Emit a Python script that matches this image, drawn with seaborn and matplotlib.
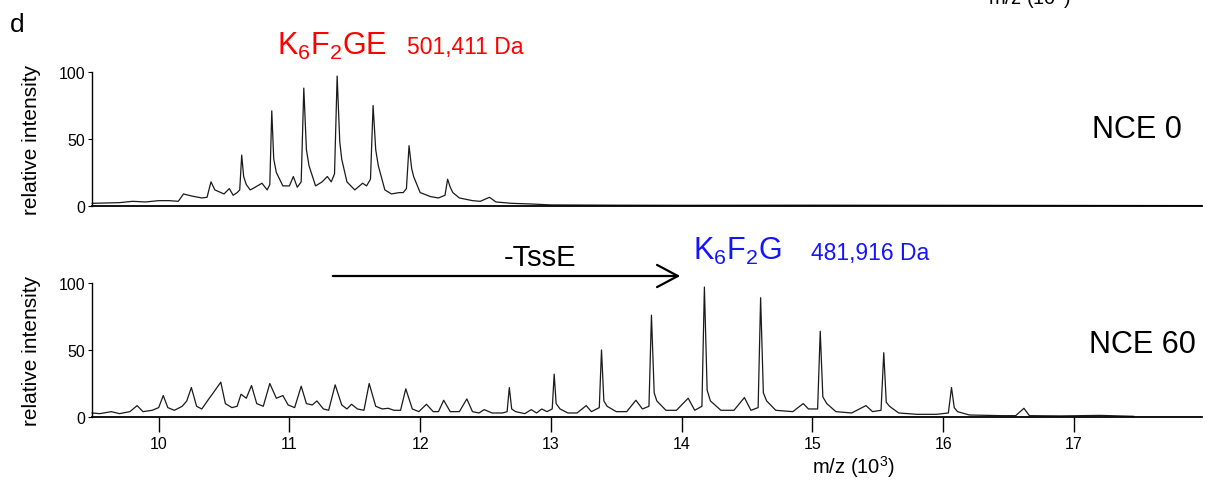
import matplotlib
matplotlib.use("Agg")
import matplotlib.pyplot as plt
from matplotlib.patches import FancyArrowPatch
import seaborn as sns
import pandas as pd

# spectrum traces (m/z in 10^3, relative intensity)
top_mz = [9.49, 9.70, 9.80, 9.90, 10.00, 10.08, 10.15, 10.19, 10.25, 10.33,
          10.37, 10.40, 10.43, 10.50, 10.54, 10.57, 10.60, 10.62, 10.635, 10.65,
          10.67, 10.70, 10.72, 10.79, 10.83, 10.85, 10.865, 10.88, 10.90, 10.95,
          11.00, 11.03, 11.06, 11.09, 11.11, 11.13, 11.15, 11.20, 11.25, 11.29,
          11.32, 11.345, 11.365, 11.385, 11.40, 11.44, 11.50, 11.56, 11.59, 11.62,
          11.64, 11.66, 11.68, 11.73, 11.78, 11.84, 11.87, 11.895, 11.915, 11.935,
          11.95, 12.00, 12.08, 12.14, 12.19, 12.21, 12.23, 12.25, 12.30, 12.40,
          12.46, 12.53, 12.58, 12.70, 12.85, 13.00, 13.50, 14.00, 15.00, 16.00,
          17.00, 17.98]
top_int = [2, 2.5, 3.5, 3, 4, 4, 3.5, 9, 7.5, 6,
           6.5, 18, 12, 9, 13, 8, 10, 12, 38, 22,
           16, 12, 13, 17, 12, 16, 71, 35, 25, 15,
           15, 22, 14, 18, 88, 42, 30, 15, 18, 22,
           18, 24, 97, 48, 35, 18, 12, 17, 15, 20,
           75, 42, 30, 12, 9, 10, 10, 13, 45, 28,
           22, 10, 7, 6, 8, 20, 14, 10, 6, 4,
           3.5, 6.5, 3, 2, 1.5, 0.8, 0.6, 0.5, 0.6, 0.5,
           0.4, 0.3]

bottom_mz = [9.49, 9.55, 9.638, 9.70, 9.78, 9.835, 9.88, 9.95, 10.00, 10.035,
             10.07, 10.12, 10.18, 10.215, 10.25, 10.29, 10.33, 10.38, 10.41, 10.475,
             10.51, 10.56, 10.60, 10.63, 10.67, 10.71, 10.75, 10.80, 10.85, 10.90,
             10.95, 10.99, 11.04, 11.09, 11.13, 11.175, 11.21, 11.26, 11.30, 11.35,
             11.40, 11.44, 11.475, 11.52, 11.57, 11.61, 11.66, 11.71, 11.755, 11.80,
             11.85, 11.89, 11.94, 11.99, 12.048, 12.10, 12.14, 12.18, 12.23, 12.30,
             12.357, 12.40, 12.45, 12.49, 12.55, 12.63, 12.665, 12.682, 12.70, 12.73,
             12.80, 12.85, 12.89, 12.93, 12.97, 13.01, 13.025, 13.04, 13.07, 13.13,
             13.20, 13.27, 13.31, 13.37, 13.387, 13.405, 13.43, 13.50, 13.58, 13.65,
             13.70, 13.75, 13.769, 13.79, 13.81, 13.88, 13.96, 14.05, 14.10, 14.155,
             14.174, 14.195, 14.22, 14.30, 14.40, 14.48, 14.53, 14.585, 14.604, 14.625,
             14.65, 14.72, 14.85, 14.93, 14.97, 15.04, 15.060, 15.08, 15.11, 15.18,
             15.30, 15.41, 15.46, 15.525, 15.546, 15.565, 15.59, 15.66, 15.80, 15.95,
             16.04, 16.064, 16.085, 16.11, 16.20, 16.45, 16.555, 16.618, 16.66, 16.90,
             17.20, 17.46]
bottom_int = [3, 2.5, 4, 2.5, 4, 8.5, 4, 5, 7, 16,
              7, 5, 8, 12, 22, 8, 6, 13, 17, 26,
              10, 7, 8, 17, 14, 23.5, 10, 8, 25, 14,
              16, 9, 7, 23, 10, 9, 12, 6, 5, 24,
              9, 6, 9.5, 6, 5, 25, 8, 6, 6.5, 5,
              5, 21, 6, 4, 9.5, 4, 4, 12.5, 4, 4,
              13.5, 4, 3, 5.5, 3, 3, 4, 22, 6, 4,
              2.5, 5.5, 3, 6, 4, 6, 32, 10, 6, 3,
              3, 8.5, 4, 7, 50, 12, 8, 4, 4, 12.5,
              6, 8, 76, 18, 12, 5, 5, 14, 5, 8,
              97, 20, 12, 5, 5, 14.5, 5, 7, 89, 18,
              12, 5, 4, 10, 6, 6, 64, 15, 10, 4,
              3, 8.5, 4, 5, 48, 11, 8, 3, 2, 2,
              3, 22, 7, 4, 1.5, 1, 1, 6.5, 1, 0.8,
              1.2, 0.5]

x_ticks = [10, 11, 12, 13, 14, 15, 16, 17]
y_ticks = [0, 50, 100]
x_range = (9.49, 17.98)

sns.set_theme(style="ticks")
plt.rcParams["font.family"] = ["Liberation Sans", "DejaVu Sans"]
plt.rcParams["mathtext.fontset"] = "custom"
plt.rcParams["mathtext.rm"] = "Liberation Sans"
plt.rcParams["text.color"] = "black"
plt.rcParams["axes.labelcolor"] = "black"

W, H = 1205, 481
fig = plt.figure(figsize=(W / 100, H / 100), dpi=100)


def px(x, y):
    # pixel position (from top-left) to figure fraction
    return x / W, 1 - y / H


ax_top = fig.add_axes([92 / W, 1 - 207 / H, 1110 / W, 134 / H])
ax_bot = fig.add_axes([92 / W, 1 - 418 / H, 1110 / W, 134 / H])

top_df = pd.DataFrame({"mz": top_mz, "intensity": top_int})
bot_df = pd.DataFrame({"mz": bottom_mz, "intensity": bottom_int})

for ax, df in [(ax_top, top_df), (ax_bot, bot_df)]:
    sns.lineplot(data=df, x="mz", y="intensity", ax=ax, color="#1a1a1a",
                 linewidth=0.9, estimator=None, sort=False, clip_on=False)
    ax.set_xlim(*x_range)
    ax.set_ylim(0, 100)
    ax.set_yticks(y_ticks)
    ax.set_yticklabels([str(v) for v in y_ticks])
    ax.tick_params(axis="y", length=3, width=0.8, pad=2, labelsize=11.5,
                   colors="black")
    ax.set_ylabel("relative intensity", fontsize=15, color="black")
    ax.yaxis.set_label_coords(-51 / 1110, 0.5)
    ax.set_xlabel("")
    for side in ["top", "right"]:
        ax.spines[side].set_visible(False)
    ax.spines["left"].set_linewidth(1.0)
    ax.spines["bottom"].set_linewidth(1.3)
    ax.spines["left"].set_color("black")
    ax.spines["bottom"].set_color("black")
    ax.set_facecolor("white")

ax_top.set_xticks([])
ax_bot.set_xticks(x_ticks)
ax_bot.set_xticklabels([str(v) for v in x_ticks])
ax_bot.tick_params(axis="x", length=11, width=1.0, pad=3, labelsize=11.5,
                   colors="black")

fig.text(*px(854, 467), r"m/z (10$^{\mathregular{3}}$)", fontsize=14.5,
         ha="center", va="center")
# label of the panel above, cut off by the top edge as in the source figure
fig.text(*px(1030, -2), r"m/z (10$^{\mathregular{3}}$)", fontsize=14.5,
         ha="center", va="center")

fig.text(*px(10, 32), "d", fontsize=19, ha="left", va="baseline")

fig.text(*px(277, 55), r"K$_{\mathregular{6}}$F$_{\mathregular{2}}$GE",
         fontsize=22, color="#ff0000", ha="left", va="baseline")
fig.text(*px(407, 54), "501,411 Da", fontsize=16.5, color="#ff0000",
         ha="left", va="baseline")

fig.text(*px(693, 260), r"K$_{\mathregular{6}}$F$_{\mathregular{2}}$G",
         fontsize=22, color="#1414ff", ha="left", va="baseline")
fig.text(*px(811, 260), "481,916 Da", fontsize=16.5, color="#1414ff",
         ha="left", va="baseline")

fig.text(*px(504, 266), "-TssE", fontsize=21, ha="left", va="baseline")
fig.text(*px(1092, 138), "NCE 0", fontsize=22, ha="left", va="baseline")
fig.text(*px(1089, 353), "NCE 60", fontsize=22, ha="left", va="baseline")

arrow = FancyArrowPatch(px(330, 277), px(683, 277), transform=fig.transFigure,
                        arrowstyle="->,head_length=0.75,head_width=0.4",
                        mutation_scale=20, linewidth=1.6, color="black")
fig.patches.append(arrow)

fig.savefig("out.png", dpi=100, facecolor="white")
